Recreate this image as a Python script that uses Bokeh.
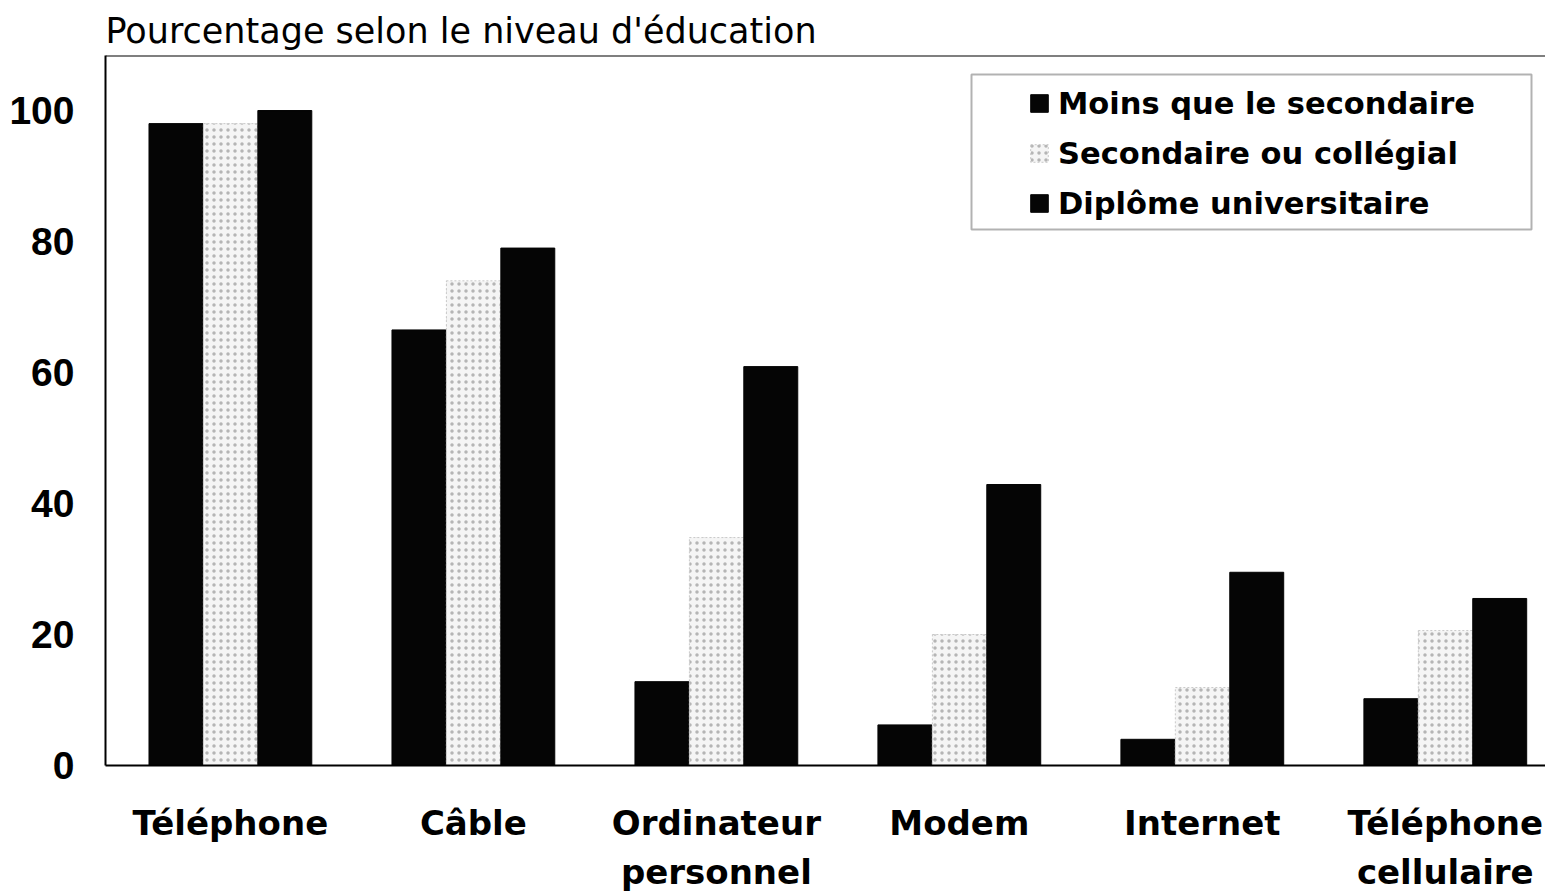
from bokeh.plotting import figure
from bokeh.models import (FixedTicker, LinearAxis, Range1d, Legend, LegendItem,
                          BoxAnnotation, Span)
from bokeh.embed import file_html
from bokeh.resources import INLINE

# ---- data ----
categories = ["Téléphone", "Câble", "Ordinateur\npersonnel", "Modem", "Internet", "Téléphone\ncellulaire"]
line1 = ["Téléphone", "Câble", "Ordinateur", "Modem", "Internet", "Téléphone"]
line2 = ["", "", "personnel", "", "", "cellulaire"]
series_names = ["Moins que le secondaire", "Secondaire ou collégial", "Diplôme universitaire"]
moins = [98, 66.5, 12.8, 6.2, 4.0, 10.2]
secondaire = [98, 74, 34.8, 20, 11.9, 20.6]
diplome = [100, 79, 60.9, 42.9, 29.5, 25.5]
y_ticks = [0, 20, 40, 60, 80, 100]

x_idx = list(range(len(categories)))
FW, FH = 1440, 710
PXU = 242.98
X0 = -0.514
X1 = X0 + FW / PXU
Y0, Y1 = 0, 108.4

p = figure(frame_width=FW, frame_height=FH, output_backend="svg", toolbar_location=None,
           x_range=Range1d(X0, X1), y_range=Range1d(Y0, Y1),
           min_border_left=105, min_border_right=0, min_border_top=55, min_border_bottom=0,
           title="Pourcentage selon le niveau d'éducation", x_axis_type=None)
p.title.text_font = "DejaVu Sans"
p.title.text_font_size = "35px"
p.title.text_font_style = "normal"
p.title.text_color = "black"
p.title.align = "left"
p.title.offset = 0
p.title.standoff = 10

p.background_fill_color = "white"
p.border_fill_color = "white"
p.outline_line_color = None
p.xgrid.visible = False
p.ygrid.visible = False

# top border line
p.add_layout(Span(location=Y1, dimension="width", line_color="black", line_width=2))

# bars
w = 0.222
off = 0.224
r1 = p.vbar(x=[i - off for i in x_idx], top=moins, bottom=0, width=w,
            fill_color="#050505", line_color="#050505")
r2 = p.vbar(x=x_idx, top=secondaire, bottom=0, width=w,
            fill_color="#f5f5f5", line_color="#c8c8c8", line_dash="2 2",
            hatch_pattern="dot", hatch_color="#8a8a8a", hatch_scale=7, hatch_alpha=0.6)
r3 = p.vbar(x=[i + off for i in x_idx], top=diplome, bottom=0, width=w,
            fill_color="#050505", line_color="#050505")

# y axis
ya = p.yaxis[0]
ya.ticker = FixedTicker(ticks=y_ticks)
ya.axis_line_color = "black"
ya.axis_line_width = 2
ya.major_tick_line_color = None
ya.minor_tick_line_color = None
ya.major_label_standoff = 25
ya.major_label_text_font = "Liberation Sans"
ya.major_label_text_font_style = "bold"
ya.major_label_text_font_size = "39px"
ya.major_label_text_color = "black"

# x axes (two lines of labels)
xa1 = LinearAxis(ticker=FixedTicker(ticks=x_idx),
                 major_label_overrides={i: t for i, t in zip(x_idx, line1)})
xa1.axis_line_color = "black"
xa1.axis_line_width = 2
xa1.major_tick_line_color = None
xa1.minor_tick_line_color = None
xa1.major_label_standoff = 31
xa1.major_label_text_font = "DejaVu Sans"
xa1.major_label_text_font_style = "bold"
xa1.major_label_text_font_size = "34px"
xa1.major_label_text_color = "black"
p.add_layout(xa1, "below")

xa2 = LinearAxis(ticker=FixedTicker(ticks=x_idx),
                 major_label_overrides={i: (t if t else " ") for i, t in zip(x_idx, line2)})
xa2.axis_line_color = None
xa2.major_tick_line_color = None
xa2.minor_tick_line_color = None
xa2.major_label_standoff = 0
xa2.major_label_text_font = "DejaVu Sans"
xa2.major_label_text_font_style = "bold"
xa2.major_label_text_font_size = "34px"
xa2.major_label_text_color = "black"
p.add_layout(xa2, "below")

# legend
legend = Legend(items=[LegendItem(label=series_names[0], renderers=[r1]),
                       LegendItem(label=series_names[1], renderers=[r2]),
                       LegendItem(label=series_names[2], renderers=[r3])],
                location=(923, 544), orientation="vertical",
                glyph_width=22, glyph_height=22, label_standoff=8, spacing=14,
                label_height=36, padding=0, margin=0,
                border_line_color=None, background_fill_alpha=0,
                label_text_font="DejaVu Sans", label_text_font_style="bold",
                label_text_font_size="30.5px", label_text_color="black")
p.add_layout(legend, "center")

# legend frame (pixel positions converted to data space)
pxu_y = FH / (Y1 - Y0)
box = BoxAnnotation(left=X0 + 866 / PXU, right=X0 + 1426 / PXU,
                    top=Y0 + 691 / pxu_y, bottom=Y0 + 536 / pxu_y,
                    fill_color=None, fill_alpha=0, line_color="black", line_width=2)
p.add_layout(box)

open("out.html", "w").write(file_html(p, INLINE))
